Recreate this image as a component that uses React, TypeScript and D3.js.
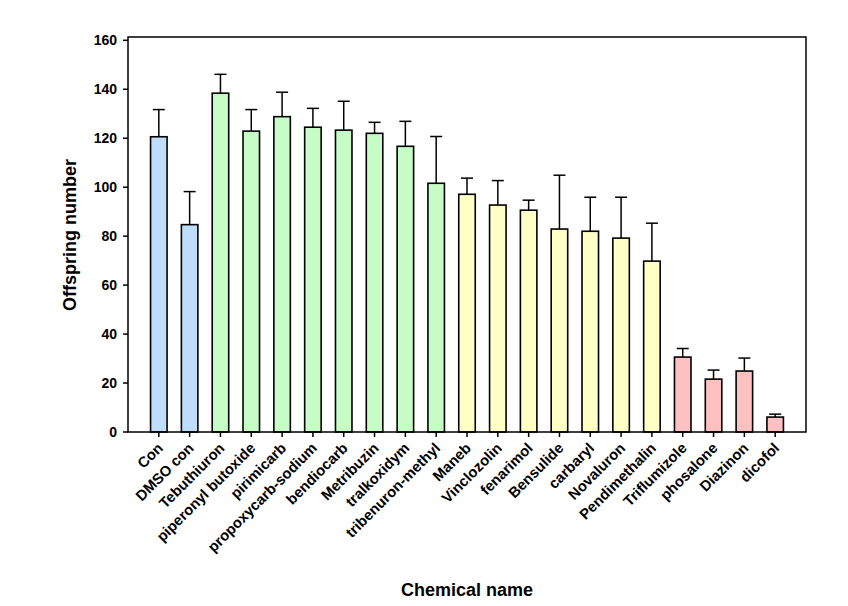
import React from "react";
import * as d3 from "d3";

const categories = [
  "Con", "DMSO con", "Tebuthiuron", "piperonyl butoxide", "pirimicarb",
  "propoxycarb-sodium", "bendiocarb", "Metribuzin", "tralkoxidym", "tribenuron-methyl",
  "Maneb", "Vinclozolin", "fenarimol", "Bensulide", "carbaryl", "Novaluron",
  "Pendimethalin", "Triflumizole", "phosalone", "Diazinon", "dicofol",
];
const values = [120.6, 84.7, 138.4, 122.9, 128.8, 124.5, 123.3, 122.0, 116.7, 101.6,
  97.1, 92.7, 90.6, 82.9, 82.0, 79.2, 69.8, 30.6, 21.6, 24.9, 6.1];
const errors = [11.1, 13.5, 7.7, 8.8, 10.0, 7.7, 11.8, 4.5, 10.2, 19.1,
  6.6, 10.0, 4.1, 22.0, 13.9, 16.7, 15.5, 3.5, 3.7, 5.3, 1.2];
const groups = [0, 0, 1, 1, 1, 1, 1, 1, 1, 1, 2, 2, 2, 2, 2, 2, 2, 3, 3, 3, 3];
const groupColors = ["#bfdcfa", "#c6fcc6", "#ffffc6", "#ffc0c2"];
const yTicks = [0, 20, 40, 60, 80, 100, 120, 140, 160];

const W = 848, H = 606;
const L = 128, R = 806, T = 37, B = 432;
const FONT = "'Liberation Sans', Arial, Helvetica, sans-serif";

export default function App() {
  const x = d3.scaleLinear().domain([-1, categories.length]).range([L, R]);
  const y = d3.scaleLinear().domain([0, 160]).range([B, 40.3]);
  const bw = 16.5;
  const cap = 12;
  return (
    <svg width={W} height={H} style={{ position: "absolute", left: 0, top: 0, background: "#fff" }}
      fontFamily={FONT}>
      {categories.map((c, i) => {
        const cx = x(i);
        return (
          <g key={c}>
            <line x1={cx} x2={cx} y1={y(values[i])} y2={y(values[i] + errors[i])} stroke="#000" strokeWidth={1.5} />
            <line x1={cx - cap / 2} x2={cx + cap / 2} y1={y(values[i] + errors[i])} y2={y(values[i] + errors[i])} stroke="#000" strokeWidth={1.5} />
            <rect x={cx - bw / 2} y={y(values[i])} width={bw} height={y(0) - y(values[i])}
              fill={groupColors[groups[i]]} stroke="#000" strokeWidth={1.6} />
          </g>
        );
      })}
      <rect x={L} y={T} width={R - L} height={B - T} fill="none" stroke="#000" strokeWidth={1.5} />
      {yTicks.map((t) => (
        <g key={t}>
          <line x1={L - 5} x2={L} y1={y(t)} y2={y(t)} stroke="#000" strokeWidth={1.5} />
          <text x={117} y={y(t)} dy="0.36em" textAnchor="end" fontSize={14} fontWeight="bold">{t}</text>
        </g>
      ))}
      {categories.map((c, i) => (
        <g key={"t" + c}>
          <line x1={x(i)} x2={x(i)} y1={B} y2={B + 5} stroke="#000" strokeWidth={1.5} />
          <text transform={`translate(${x(i) + 5},${B + 17}) rotate(-45)`} textAnchor="end"
            fontSize={14.8} fontWeight="bold">{c}</text>
        </g>
      ))}
      <text x={(L + R) / 2} y={596} textAnchor="middle" fontSize={18} fontWeight="bold">Chemical name</text>
      <text transform={`translate(75.5,235) rotate(-90)`} textAnchor="middle" fontSize={18} fontWeight="bold">Offspring number</text>
    </svg>
  );
}
